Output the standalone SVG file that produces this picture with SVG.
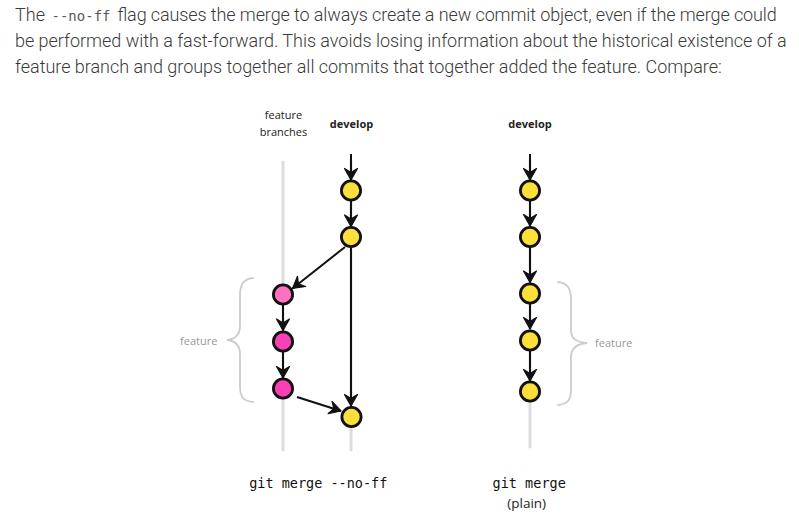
<svg xmlns="http://www.w3.org/2000/svg" width="799" height="522" viewBox="0 0 799 522">
<defs>
<style>
.para{font-family:Roboto,"Liberation Sans",sans-serif;font-weight:300;font-size:18px;fill:#3a3a3a}
.mono{font-family:"DejaVu Sans Mono","Liberation Mono",monospace;font-weight:400;font-size:14px;fill:#5a5a5a}
.lbl{font-family:"Open Sans","DejaVu Sans",sans-serif;font-size:11px;fill:#222;text-anchor:middle}
.bold{font-weight:700}
.gray{font-family:"Open Sans","DejaVu Sans",sans-serif;font-size:11px;fill:#999}
.cmd{font-family:"DejaVu Sans Mono","Liberation Mono",monospace;font-size:13.5px;fill:#111;text-anchor:middle}
.track{stroke:#ddd;stroke-width:3;fill:none;stroke-linecap:round}
.arr{stroke:#111;stroke-width:2;fill:none;marker-end:url(#ah)}
.brace{stroke:#ccc;stroke-width:1.8;fill:none;stroke-linecap:round}
.y{fill:#fcdf3a;stroke:#111;stroke-width:2.8}
.p1{fill:#ff72c0;stroke:#111;stroke-width:2.8}
.p2{fill:#f940b4;stroke:#111;stroke-width:2.8}
</style>
<marker id="ah" viewBox="-13 -8 15 16" refX="0" refY="0" markerWidth="15" markerHeight="16" markerUnits="userSpaceOnUse" orient="auto">
<path d="M0,0 L-11.5,-6.5 L-7.5,0 L-11.5,6.5 Z" fill="#111" stroke="#111" stroke-width="1.2" stroke-linejoin="round"/>
</marker>
</defs>
<rect width="799" height="522" fill="#fff"/>
<g id="paragraph">
<text class="para" y="21"><tspan x="15">The</tspan><tspan class="mono" x="51.5">--no-ff</tspan><tspan x="117.3" textLength="659.4" lengthAdjust="spacing">flag causes the merge to always create a new commit object, even if the merge could</tspan></text>
<text class="para" x="15" y="47" textLength="771.7" lengthAdjust="spacing">be performed with a fast-forward. This avoids losing information about the historical existence of a</text>
<text class="para" x="15" y="73.3" textLength="706.7" lengthAdjust="spacing">feature branch and groups together all commits that together added the feature. Compare:</text>
</g>
<g id="tracks">
<line class="track" x1="283" y1="162" x2="283" y2="450"/>
<line class="track" x1="351" y1="160" x2="351" y2="450"/>
<line class="track" x1="530" y1="160" x2="530" y2="447"/>
</g>
<g id="connectors">
<line class="arr" x1="351" y1="154" x2="351" y2="180"/>
<line class="arr" x1="351" y1="201" x2="351" y2="226.5"/>
<line class="arr" x1="345" y1="247" x2="292.5" y2="288.5"/>
<line class="arr" x1="351" y1="248" x2="351" y2="406"/>
<line class="arr" x1="283" y1="305" x2="283" y2="330.5"/>
<line class="arr" x1="283" y1="352" x2="283" y2="378"/>
<line class="arr" x1="297" y1="397" x2="341" y2="411"/>
<line class="arr" x1="530" y1="154" x2="530" y2="180"/>
<line class="arr" x1="530" y1="201" x2="530" y2="226"/>
<line class="arr" x1="530" y1="247" x2="530" y2="282.5"/>
<line class="arr" x1="530" y1="304" x2="530" y2="329"/>
<line class="arr" x1="530" y1="351" x2="530" y2="381"/>
</g>
<g id="labels">
<text class="lbl" x="283.5" y="119">feature</text>
<text class="lbl" x="283.5" y="136">branches</text>
<text class="lbl bold" x="351.5" y="128">develop</text>
<text class="lbl bold" x="530" y="128">develop</text>
</g>
<g id="brace-left">
<path class="brace" d="M253,278 C243,279 240,285 240,296 L240,326 C240,334 236,339 227,340 C236,341 240,346 240,354 L240,386 C240,397 243,401 253,402"/>
<text class="gray" x="180" y="344.5">feature</text>
</g>
<g id="brace-right">
<path class="brace" d="M558,282 C568,283 571,289 571,300 L571,330 C571,338 575,342 587,343 C575,344 571,349 571,357 L571,389 C571,400 568,404 558,405"/>
<text class="gray" x="595" y="347">feature</text>
</g>
<g id="dev-c1"><circle class="y" cx="351" cy="190.5" r="9.6"/></g>
<g id="dev-c2"><circle class="y" cx="351" cy="237" r="9.6"/></g>
<g id="feat-c1"><circle class="p1" cx="283" cy="294.5" r="9.6"/></g>
<g id="feat-c2"><circle class="p2" cx="283" cy="341.5" r="9.6"/></g>
<g id="feat-c3"><circle class="p2" cx="283" cy="388.5" r="9.6"/></g>
<g id="dev-merge"><circle class="y" cx="351.5" cy="417" r="9.6"/></g>
<g id="plain-c1"><circle class="y" cx="530" cy="190.5" r="9.6"/></g>
<g id="plain-c2"><circle class="y" cx="530" cy="237" r="9.6"/></g>
<g id="plain-c3"><circle class="y" cx="530" cy="293.5" r="9.6"/></g>
<g id="plain-c4"><circle class="y" cx="530" cy="340.5" r="9.6"/></g>
<g id="plain-c5"><circle class="y" cx="530" cy="391.5" r="9.6"/></g>
<g id="captions">
<text class="cmd" x="318.3" y="488">git merge --no-ff</text>
<text class="cmd" x="529.2" y="488">git merge</text>
<text class="lbl" x="526.7" y="508" style="font-size:13.5px">(plain)</text>
</g>
</svg>
